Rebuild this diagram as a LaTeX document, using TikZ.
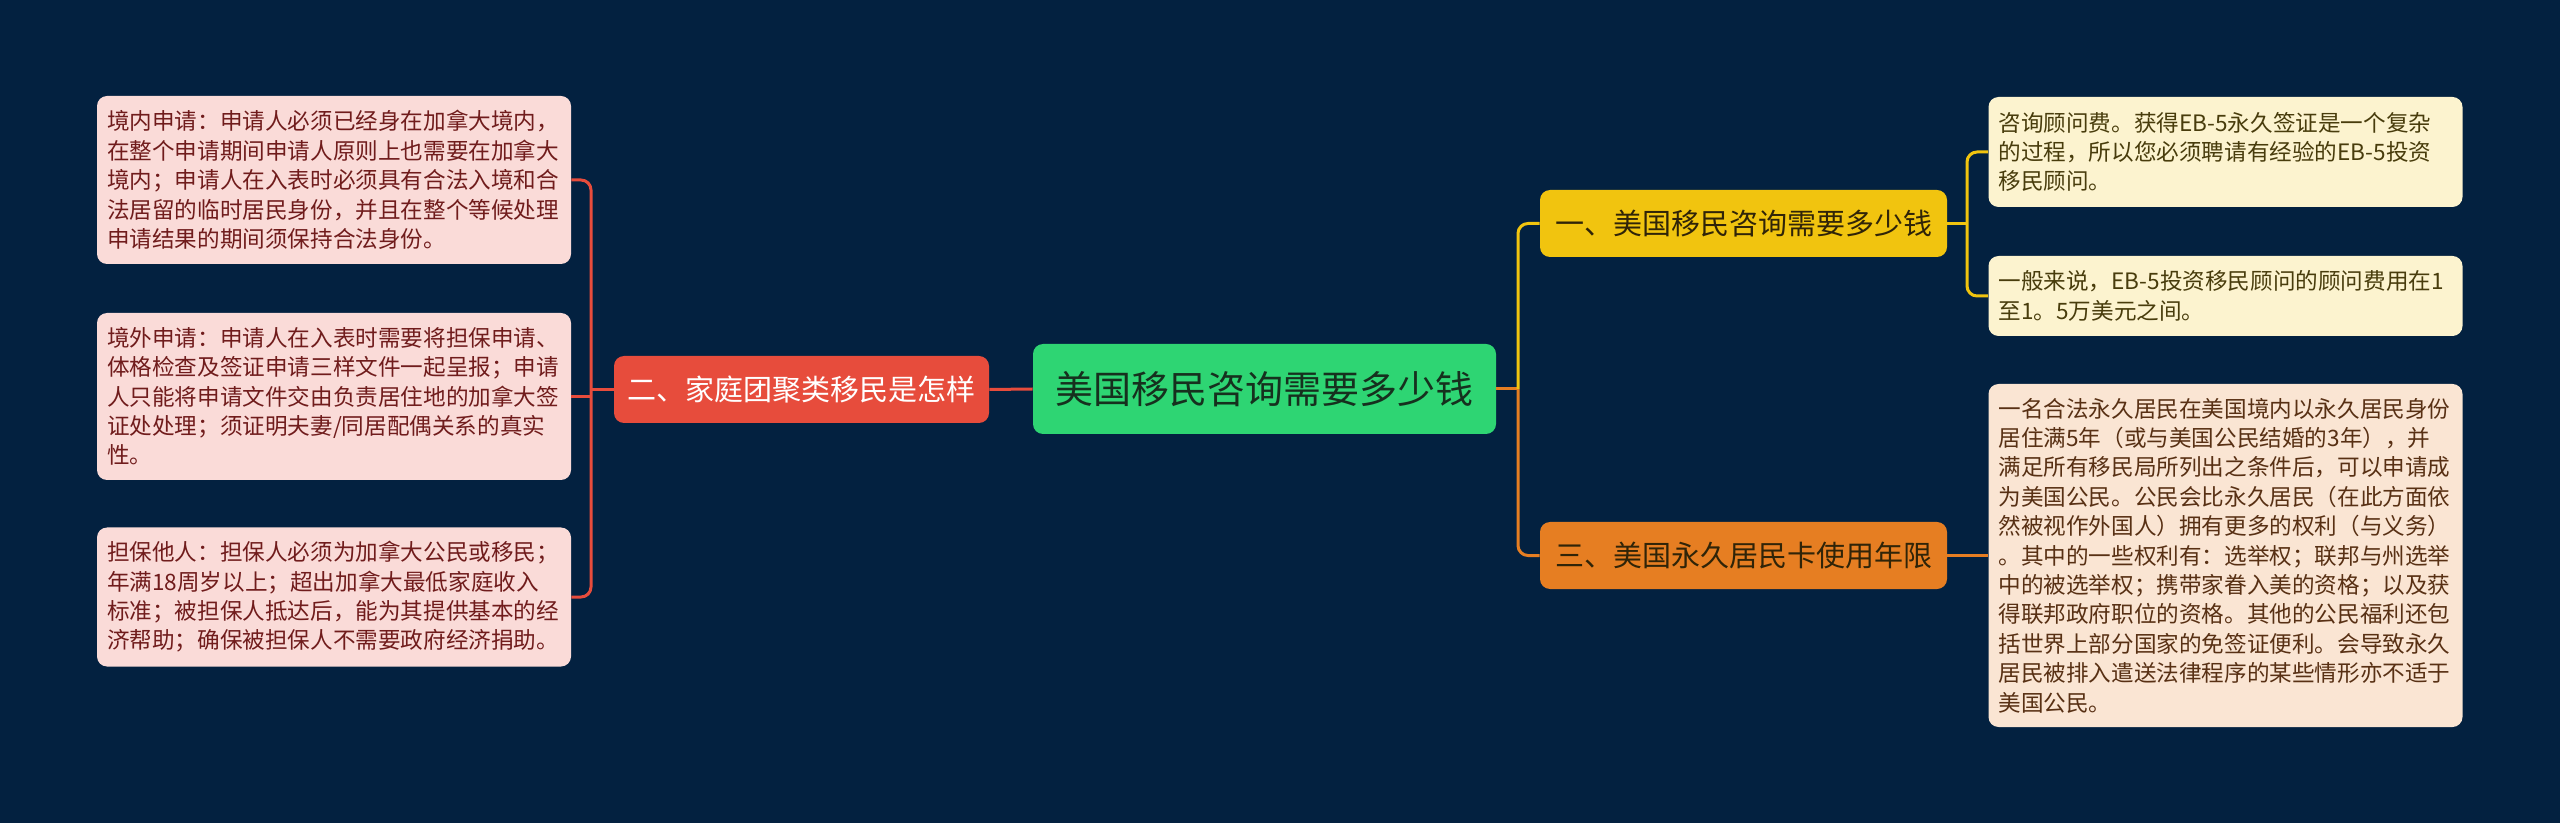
\documentclass[tikz,border=0pt]{standalone}
\usepackage{fontspec}
\setmainfont{Noto Sans CJK SC}
\definecolor{bgnavy}{RGB}{3,33,64}
\definecolor{rootgreen}{RGB}{46,213,115}
\definecolor{roottext}{RGB}{22,48,30}
\definecolor{famred}{RGB}{231,76,60}
\definecolor{feegold}{RGB}{241,196,15}
\definecolor{cardorange}{RGB}{230,126,34}
\definecolor{pinkleaf}{RGB}{250,219,216}
\definecolor{creamleaf}{RGB}{252,243,207}
\definecolor{peachleaf}{RGB}{250,229,211}
\definecolor{pinktext}{RGB}{112,28,28}
\definecolor{creamtext}{RGB}{72,60,12}
\definecolor{peachtext}{RGB}{88,48,20}
\definecolor{topictext}{RGB}{48,36,8}
\begin{document}
\begin{tikzpicture}[x=0.5pt, y=-0.5pt,
    box/.style={rounded corners=5pt, inner sep=0pt, align=center},
    topic/.style={box, minimum width=203.5pt, minimum height=33.5pt, font=\fontsize{14.5pt}{17pt}\selectfont},
    leaf/.style={rounded corners=5pt, inner xsep=5pt, text width=227pt, align=left, font=\fontsize{11.3pt}{14.7pt}\selectfont},
    link/.style={line width=1.5pt, rounded corners=5pt}]
    \fill[bgnavy] (0,0) rectangle (2560,823);
    \node[box, fill=rootgreen, text=roottext, minimum width=231.5pt, minimum height=45pt, font=\fontsize{19pt}{22pt}\selectfont] (root) at (1264.5,389) {美国移民咨询需要多少钱};
    \node[box, fill=famred, text=white, minimum width=187.5pt, minimum height=33.5pt, font=\fontsize{14.5pt}{17pt}\selectfont] (fam) at (801.5,389.5) {二、家庭团聚类移民是怎样};
    \node[topic, fill=feegold, text=topictext] (fee) at (1743.5,223.5) {一、美国移民咨询需要多少钱};
    \node[topic, fill=cardorange, text=topictext] (card) at (1743.5,555.5) {三、美国永久居民卡使用年限};
    \node[leaf, fill=pinkleaf, text=pinktext, minimum height=84pt] (inland) at (334,180) {境内申请：申请人必须已经身在加拿大境内，\\在整个申请期间申请人原则上也需要在加拿大\\境内；申请人在入表时必须具有合法入境和合\\法居留的临时居民身份，并且在整个等候处理\\申请结果的期间须保持合法身份。};
    \node[leaf, fill=pinkleaf, text=pinktext, minimum height=83.5pt] (abroad) at (334,396.5) {境外申请：申请人在入表时需要将担保申请、\\体格检查及签证申请三样文件一起呈报；申请\\人只能将申请文件交由负责居住地的加拿大签\\证处处理；须证明夫妻/同居配偶关系的真实\\性。};
    \node[leaf, fill=pinkleaf, text=pinktext, minimum height=69.5pt] (sponsor) at (334,597) {担保他人：担保人必须为加拿大公民或移民；\\年满18周岁以上；超出加拿大最低家庭收入\\标准；被担保人抵达后，能为其提供基本的经\\济帮助；确保被担保人不需要政府经济捐助。};
    \node[leaf, fill=creamleaf, text=creamtext, minimum height=55pt] (feea) at (2225.5,152) {咨询顾问费。获得EB-5永久签证是一个复杂\\的过程，所以您必须聘请有经验的EB-5投资\\移民顾问。};
    \node[leaf, fill=creamleaf, text=creamtext, minimum height=40pt] (feeb) at (2225.5,296) {一般来说，EB-5投资移民顾问的顾问费用在1\\至1。5万美元之间。};
    \node[leaf, fill=peachleaf, text=peachtext, minimum height=171.5pt] (cardinfo) at (2225.5,555.5) {一名合法永久居民在美国境内以永久居民身份\\居住满5年（或与美国公民结婚的3年），并\\满足所有移民局所列出之条件后，可以申请成\\为美国公民。公民会比永久居民（在此方面依\\然被视作外国人）拥有更多的权利（与义务）\\。其中的一些权利有：选举权；联邦与州选举\\中的被选举权；携带家眷入美的资格；以及获\\得联邦政府职位的资格。其他的公民福利还包\\括世界上部分国家的免签证便利。会导致永久\\居民被排入遣送法律程序的某些情形亦不适于\\美国公民。};
    \coordinate (famtrunk) at (591,389.5);
    \coordinate (roottrunk) at (1518,389);
    \coordinate (feetrunk) at (1967,223.5);
    \draw[link, famred] (root.west) -- (fam.east);
    \draw[link, famred] (fam.west) -- (famtrunk);
    \draw[link, famred] (inland.east) -| (famtrunk) |- (sponsor.east);
    \draw[link, famred] (abroad.east) -- (abroad.east -| famtrunk);
    \draw[link, cardorange] (root.east) -- (roottrunk);
    \draw[link, cardorange] (roottrunk) |- (card.west);
    \draw[link, feegold] (roottrunk) |- (fee.west);
    \draw[link, feegold] (fee.east) -- (feetrunk);
    \draw[link, feegold] (feea.west) -| (feetrunk) |- (feeb.west);
    \draw[link, cardorange] (card.east) -- (cardinfo.west);
\end{tikzpicture}
\end{document}
